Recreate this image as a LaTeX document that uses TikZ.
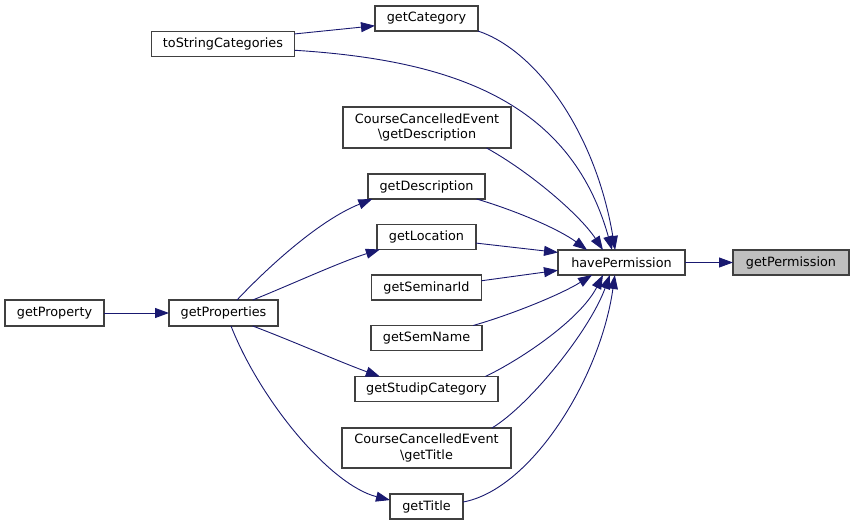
\documentclass[tikz,border=0pt]{standalone}
\usepackage{fontspec}
\setmainfont{DejaVu Sans}
\usetikzlibrary{arrows.meta}
\definecolor{edgeblue}{HTML}{191970}
\definecolor{boxline}{HTML}{404040}
\definecolor{boxgrey}{HTML}{BFBFBF}

\begin{document}
\begin{tikzpicture}[x=1pt,y=-1pt,
	fn/.style={draw=boxline, line width=1.2pt, rectangle, inner sep=0pt, outer sep=0pt, minimum height=25pt, font=\fontsize{12.8}{15.5}\selectfont, align=center},
	call/.style={draw=edgeblue, line width=0.9pt, -{Triangle[length=14pt,width=10pt,fill=edgeblue]}}]
			\useasboundingbox (0,0) rectangle (853,525);
			\node (P) [fn, fill=boxgrey, minimum width=116pt] at (791,262.5){getPermission};
			\node (H) [fn, minimum width=127pt] at (621.5,262.5){havePermission};
			\node (cat) [fn, minimum width=103pt] at (426.5,18.5){getCategory};
			\node (tsc) [fn, minimum width=143pt] at (223,44){toStringCategories};
			\node (cdesc) [fn, minimum width=168pt, minimum height=41pt] at (427,127.5){CourseCancelledEvent\\\textbackslash getDescription};
			\node (desc) [fn, minimum width=117pt] at (426.5,186.5){getDescription};
			\node (loc) [fn, minimum width=99pt] at (426.5,237){getLocation};
			\node (sid) [fn, minimum width=110pt] at (426.5,287.5){getSeminarId};
			\node (sname) [fn, minimum width=111pt] at (426.5,338){getSemName};
			\node (scat) [fn, minimum width=143pt] at (426.5,389){getStudipCategory};
			\node (ctitle) [fn, minimum width=169pt, minimum height=40pt] at (426.5,448){CourseCancelledEvent\\\textbackslash getTitle};
			\node (title) [fn, minimum width=73pt] at (426.5,506.5){getTitle};
			\node (props) [fn, minimum width=109pt, minimum height=26pt] at (223.5,313){getProperties};
			\node (prop) [fn, minimum width=99pt, minimum height=26pt] at (54.5,313){getProperty};
			
			\draw[call] (H.east)--(P.west);
			\draw[call] (cat.south east) .. controls (535,50) and (595,130) .. (H.117);
			\draw[call] (tsc.-5) .. controls (450,60) and (570,100) .. (H.127);
			\draw[call] (tsc.8)--(cat.188);
			\draw[call] (cdesc.-19.5) .. controls (530,172) and (580,215) .. (H.146);
			\draw[call] (desc.-14) .. controls (520,212) and (560,230) .. (H.160);
			\draw[call] (loc.-7)--(H.171);
			\draw[call] (sid.7)--(H.187);
			\draw[call] (sname.15) .. controls (510,315) and (560,295) .. (H.203);
			\draw[call] (scat.12.5) .. controls (520,360) and (580,320) .. (H.214);
			\draw[call] (ctitle.17.5) .. controls (530,405) and (590,330) .. (H.227);
			\draw[call] (title.7) .. controls (530,490) and (600,380) .. (H.242);
			\draw[call] (prop.east)--(props.west);
			\draw[call] (props.44) .. controls (270,265) and (320,220) .. (desc.193);
			\draw[call] (props.24) .. controls (290,285) and (340,262) .. (loc.195);
			\draw[call] (props.-24) .. controls (290,340) and (340,362) .. (scat.165);
			\draw[call] (props.-60) .. controls (260,400) and (330,485) .. (title.170);
		\end{tikzpicture}
\end{document}
